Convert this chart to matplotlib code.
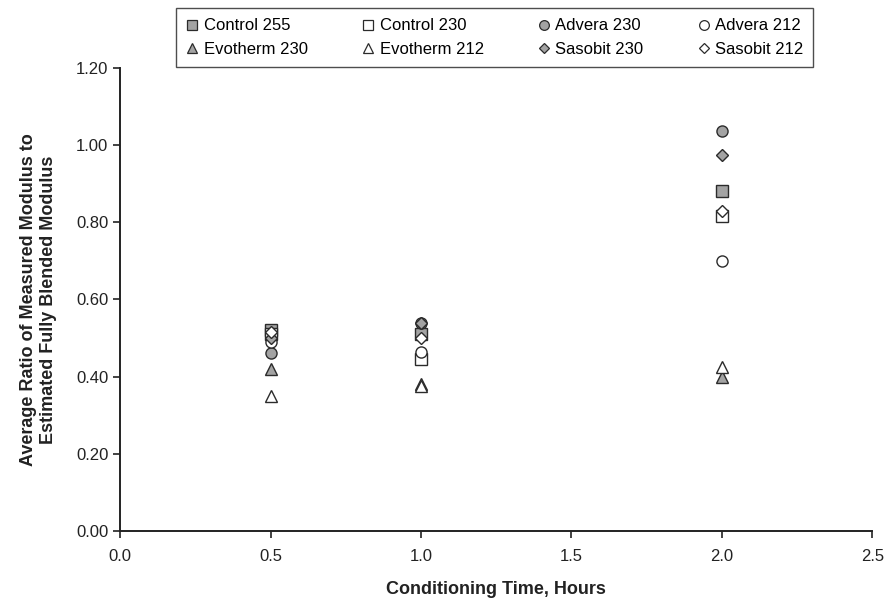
import matplotlib
matplotlib.use("Agg")
import matplotlib.pyplot as plt

plt.rcParams["font.family"] = ["Liberation Sans", "DejaVu Sans"]

# conditioning times (hours)
times = [0.5, 1.0, 2.0]

series_names = ["Control 255", "Control 230", "Advera 230", "Advera 212",
                "Evotherm 230", "Evotherm 212", "Sasobit 230", "Sasobit 212"]

control_255 = [0.52, 0.51, 0.88]
control_230 = [0.51, 0.445, 0.815]
advera_230 = [0.46, 0.54, 1.035]
advera_212 = [0.49, 0.465, 0.70]
evotherm_230 = [0.42, 0.38, 0.40]
evotherm_212 = [0.35, 0.375, 0.425]
sasobit_230 = [0.50, 0.54, 0.975]
sasobit_212 = [0.515, 0.50, 0.83]

values = [control_255, control_230, advera_230, advera_212,
          evotherm_230, evotherm_212, sasobit_230, sasobit_212]

GRAY = "#a3a3a3"
EDGE = "#2b2b2b"
styles = [
    ("s", GRAY), ("s", "white"), ("o", GRAY), ("o", "white"),
    ("^", GRAY), ("^", "white"), ("D", GRAY), ("D", "white"),
]

fig = plt.figure(figsize=(8.9, 6.0), dpi=100)
ax = fig.add_axes([0.135, 0.115, 0.845, 0.772])

handles = []
for name, vals, (mk, fc) in zip(series_names, values, styles):
    ms = 6.5 if mk == "D" else 8
    h, = ax.plot(times, vals, linestyle="none", marker=mk, markersize=ms,
                 markerfacecolor=fc, markeredgecolor=EDGE, markeredgewidth=1.0,
                 label=name)
    handles.append(h)

ax.set_xlim(0.0, 2.5)
ax.set_ylim(0.0, 1.2)
ax.set_xticks([0.0, 0.5, 1.0, 1.5, 2.0, 2.5])
ax.set_xticklabels([f"{v:.1f}" for v in [0.0, 0.5, 1.0, 1.5, 2.0, 2.5]])
ax.set_yticks([0.0, 0.2, 0.4, 0.6, 0.8, 1.0, 1.2])
ax.set_yticklabels([f"{v:.2f}" for v in [0.0, 0.2, 0.4, 0.6, 0.8, 1.0, 1.2]])
ax.tick_params(axis="both", direction="out", length=5, width=1.2,
               labelsize=12, color="#222222", labelcolor="#222222")
ax.tick_params(axis="x", pad=8)
ax.spines["top"].set_visible(False)
ax.spines["right"].set_visible(False)
for s in ["left", "bottom"]:
    ax.spines[s].set_linewidth(1.4)
    ax.spines[s].set_color("#222222")

ax.set_xlabel("Conditioning Time, Hours", fontsize=13, fontweight="bold",
              labelpad=12, color="#222222")
ax.set_ylabel("Average Ratio of Measured Modulus to\nEstimated Fully Blended Modulus",
              fontsize=13, fontweight="bold", labelpad=14, color="#222222")

# legend is filled column by column, so reorder for row-wise reading
order = [0, 4, 1, 5, 2, 6, 3, 7]
small = []
for i in order:
    h = handles[i]
    mk = h.get_marker()
    small.append(plt.Line2D([], [], linestyle="none", marker=mk,
                            markersize=5.5 if mk == "D" else 7,
                            markerfacecolor=h.get_markerfacecolor(),
                            markeredgecolor=EDGE, markeredgewidth=0.9))
leg = fig.legend(small, [series_names[i] for i in order], ncol=4,
                 loc="upper left", bbox_to_anchor=(0.188, 1.0),
                 frameon=True, fancybox=False, edgecolor="#222222",
                 fontsize=12, handlelength=0.8, handletextpad=0.3,
                 columnspacing=3.2, borderpad=0.6, labelspacing=0.5)
leg.get_frame().set_linewidth(1.0)

fig.savefig("out.png", dpi=100)
